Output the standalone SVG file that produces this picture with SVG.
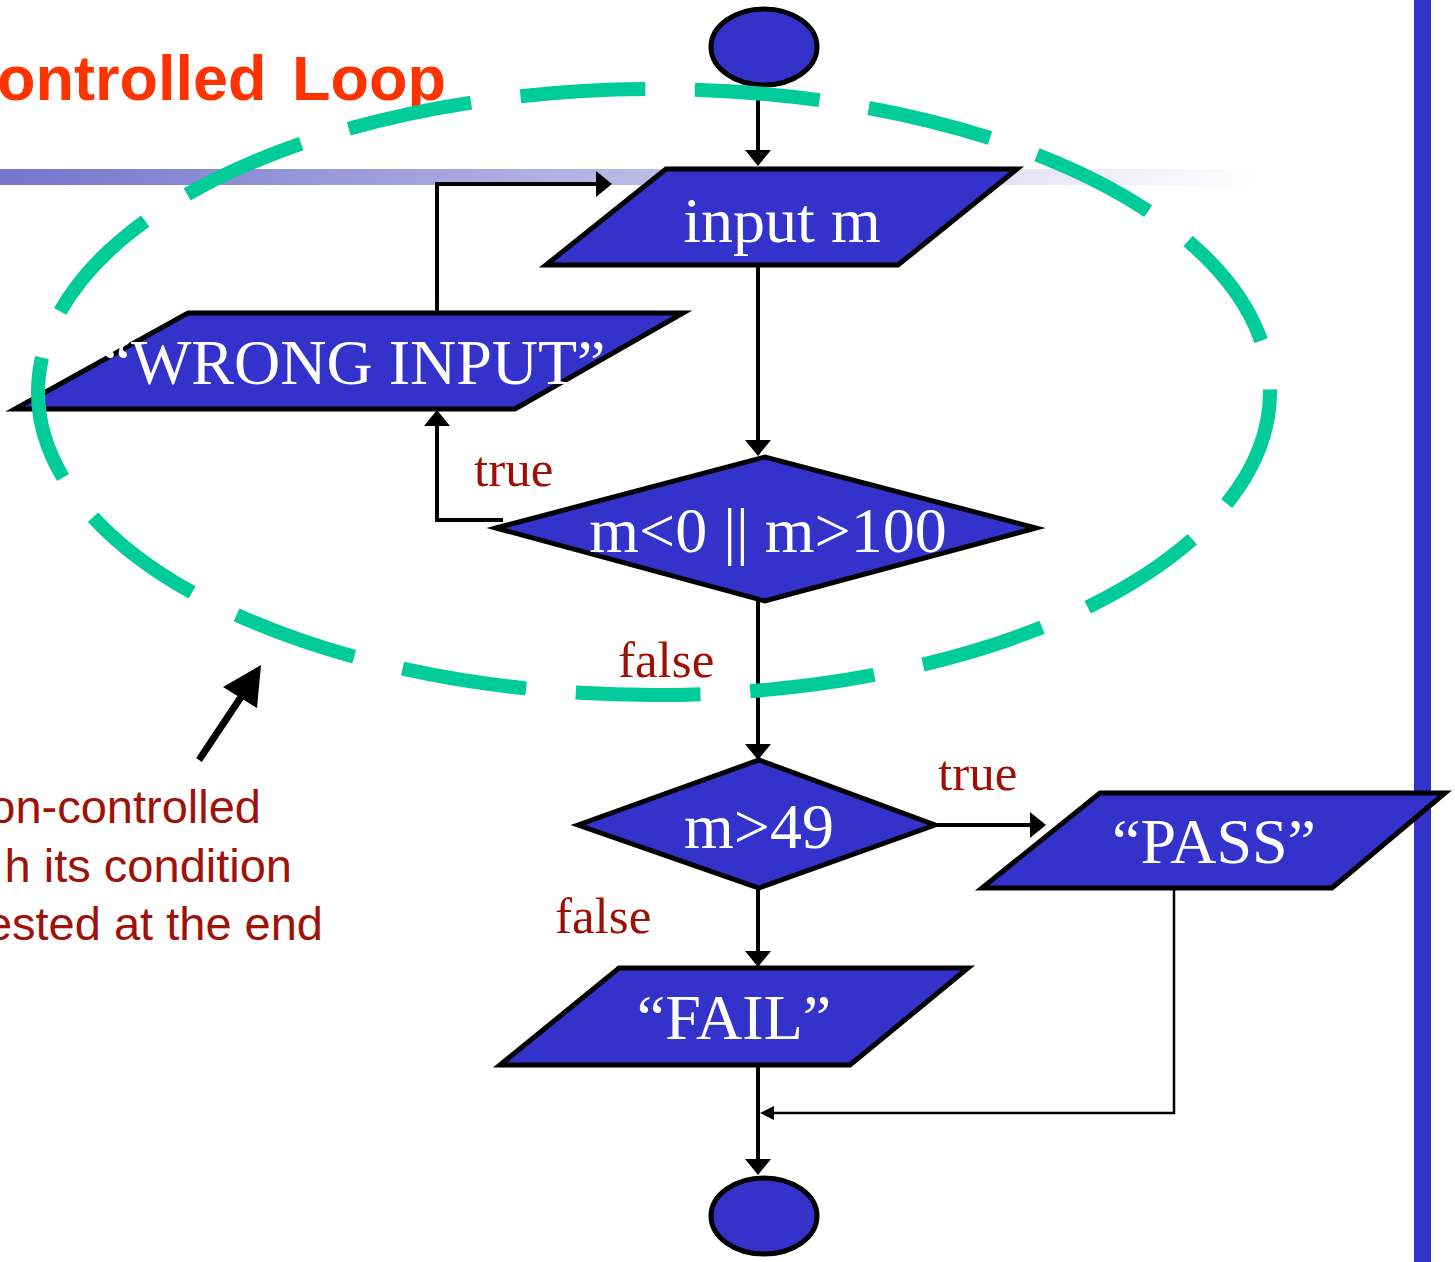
<svg xmlns="http://www.w3.org/2000/svg" width="1455" height="1262" viewBox="0 0 1455 1262">
<defs>
<linearGradient id="barGrad" gradientUnits="userSpaceOnUse" x1="0" y1="0" x2="1260" y2="0">
<stop offset="0" stop-color="#7474CE"/>
<stop offset="1" stop-color="#FFFFFF"/>
</linearGradient>
<marker id="arr" markerUnits="userSpaceOnUse" orient="auto" viewBox="0 0 16 26" markerWidth="16" markerHeight="26" refX="0" refY="13">
<path d="M0,0 L16,13 L0,26 Z" fill="#000"/>
</marker>
<marker id="arrS" markerUnits="userSpaceOnUse" orient="auto" viewBox="0 0 14 14" markerWidth="14" markerHeight="14" refX="0" refY="7">
<path d="M0,0 L14,7 L0,14 Z" fill="#000"/>
</marker>
<style>
.node{fill:#3333CC;stroke:#000;stroke-width:5;stroke-linejoin:miter}
.ntext{fill:#FFFFFF;font-family:"Liberation Serif","Times New Roman",serif;font-size:64px;text-anchor:middle}
.conn{fill:none;stroke:#000;stroke-width:4}
.thin{fill:none;stroke:#000;stroke-width:2.5}
.lbl{fill:#9C1006;font-family:"Liberation Serif","Times New Roman",serif;font-size:51px}
.ann{fill:#9E1208;font-family:"Liberation Sans",Arial,sans-serif;font-size:47px;text-anchor:end}
.title{fill:#FF3300;font-family:"Liberation Sans",Arial,sans-serif;font-size:63px;font-weight:bold}
</style>
</defs>
<rect width="1455" height="1262" fill="#FFFFFF"/>
<g id="decor">
<rect x="0" y="169" width="1260" height="16" fill="url(#barGrad)"/>
<rect x="1414" y="0" width="17" height="1262" fill="#3333CC"/>
</g>
<g id="title">
<text class="title" x="-3" y="100">ontrolled</text>
<text class="title" x="292" y="100">Loop</text>
</g>
<g id="connectors">
<path class="conn" d="M758,86 V150" marker-end="url(#arr)"/>
<path class="conn" d="M758,266 V440" marker-end="url(#arr)"/>
<path class="conn" d="M503,520 H437 V426" marker-end="url(#arr)"/>
<path class="conn" d="M437,311 V184 H596" marker-end="url(#arr)"/>
<path class="conn" d="M758,601 V744" marker-end="url(#arr)"/>
<path class="conn" d="M935,825 H1030" marker-end="url(#arr)"/>
<path class="conn" d="M758,888 V951" marker-end="url(#arr)"/>
<path class="conn" d="M758,1066 V1159" marker-end="url(#arr)"/>
<path class="thin" d="M1174,888 V1113 H774" marker-end="url(#arrS)"/>
</g>
<g id="start">
<ellipse class="node" cx="764" cy="47" rx="53" ry="38"/>
</g>
<g id="input">
<polygon class="node" points="666,169 1017,169 898,265 546,265"/>
<text class="ntext" x="782" y="242">input m</text>
</g>
<g id="wrong">
<polygon class="node" points="188,313 683,313 515,409 15,409"/>
<text class="ntext" x="354" y="384">“WRONG INPUT”</text>
</g>
<g id="cond1">
<polygon class="node" points="496,528 765,457 1036,528 765,601"/>
<text class="ntext" x="768" y="552">m&lt;0 || m&gt;100</text>
</g>
<g id="cond2">
<polygon class="node" points="578,825 759,760 935,825 759,888"/>
<text class="ntext" x="759" y="848">m&gt;49</text>
</g>
<g id="pass">
<polygon class="node" points="1100,793 1445,793 1332,888 982,888"/>
<text class="ntext" x="1214" y="863">“PASS”</text>
</g>
<g id="fail">
<polygon class="node" points="619,968 968,968 850,1065 500,1065"/>
<text class="ntext" x="734" y="1039">“FAIL”</text>
</g>
<g id="end">
<ellipse class="node" cx="764" cy="1216" rx="53" ry="38"/>
</g>
<g id="labels">
<text class="lbl" x="474" y="486">true</text>
<text class="lbl" x="618" y="677">false</text>
<text class="lbl" x="938" y="790">true</text>
<text class="lbl" x="555" y="933">false</text>
</g>
<g id="loop-outline">
<ellipse cx="654" cy="392" rx="616" ry="303" fill="none" stroke="#00CC99" stroke-width="14" stroke-dasharray="125 49.79" stroke-dashoffset="3"/>
</g>
<g id="annotation">
<line x1="199" y1="760" x2="241" y2="697" stroke="#000" stroke-width="7"/>
<polygon points="261,665 223,687 257,708" fill="#000"/>
<text class="ann" x="261" y="823">on-controlled</text>
<text class="ann" x="292" y="882">h its condition</text>
<text class="ann" x="323" y="940">ested at the end</text>
</g>
</svg>
